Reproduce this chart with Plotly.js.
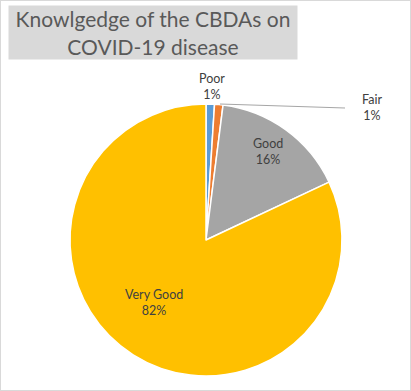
<!DOCTYPE html>
<html><head><meta charset="utf-8">
<script src="https://cdn.plot.ly/plotly-3.0.1.min.js"></script>
<style>html,body{margin:0;padding:0;background:#fff}#chart{width:409px;height:389px;border:1px solid #d9d9d9}</style>
</head><body><div id="chart"></div>
<script>
const categories = ["Poor", "Fair", "Good", "Very Good"];
const values = [1, 1, 16, 82];
const colors = ["#5b9bd5", "#ed7d31", "#a5a5a5", "#ffc000"];
const titleText = "Knowlgedge of the CBDAs on<br>COVID-19 disease";

const W = 409, H = 389;
const px = x => x / W, py = y => 1 - y / H;
const cx = 205, cy = 239, R = 136;

const labelPos = [[211, 85], [371, 107], [267, 151], [153, 301]];
const total = values.reduce((a, b) => a + b, 0);

const annotations = categories.map((c, i) => ({
  text: c + "<br>" + Math.round(values[i] / total * 100) + "%",
  x: px(labelPos[i][0]), y: py(labelPos[i][1]), xref: "paper", yref: "paper",
  xanchor: "center", yanchor: "middle", showarrow: false, align: "center",
  font: {family: "Lato, 'Open Sans', sans-serif", size: 12.5, color: "#404040"}
}));
annotations.push({
  text: titleText, x: px(7), y: py(4), xref: "paper", yref: "paper",
  xanchor: "left", yanchor: "top", showarrow: false, align: "center",
  bgcolor: "#d9d9d9", width: 286, height: 51, borderpad: 1,
  font: {family: "Lato, 'Open Sans', sans-serif", size: 21, color: "#595959"}
});

Plotly.newPlot("chart", [{
  type: "pie", labels: categories, values: values, sort: false,
  direction: "clockwise", rotation: 0, textinfo: "none", hoverinfo: "label+percent",
  marker: {colors: colors, line: {color: "#ffffff", width: 1.5}},
  domain: {x: [px(cx - R), px(cx + R)], y: [py(cy + R), py(cy - R)]}
}], {
  width: W, height: H, margin: {l: 0, r: 0, t: 0, b: 0},
  paper_bgcolor: "#ffffff", showlegend: false,
  annotations: annotations,
  shapes: [{type: "line", xref: "paper", yref: "paper",
    x0: px(219), y0: py(103), x1: px(344), y1: py(107),
    line: {color: "#a6a6a6", width: 1}}]
}, {displayModeBar: false, staticPlot: true});
</script></body></html>
